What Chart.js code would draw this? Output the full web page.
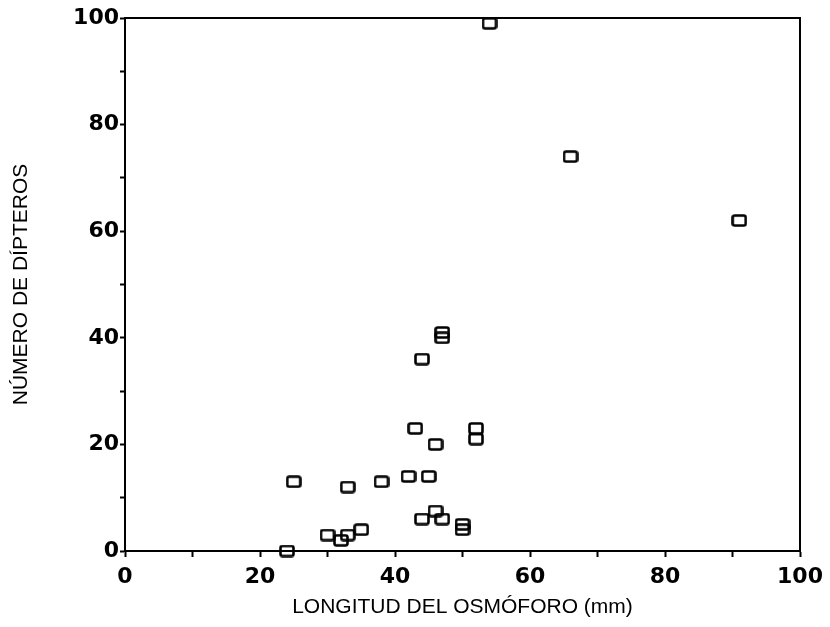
<!DOCTYPE html>
<html>
<head>
<meta charset="utf-8">
<script src="https://cdn.jsdelivr.net/npm/chart.js@4.4.1/dist/chart.umd.min.js"></script>
<style>
  html, body { margin: 0; padding: 0; background: #fff; }
  #wrap { width: 830px; height: 627px; }
</style>
</head>
<body>
<div id="wrap"><canvas id="chart" width="830" height="627"></canvas></div>
<script>
// DATA
const longitud = [24, 25, 30, 32, 33, 33, 35, 38, 42, 43, 44, 44, 45, 46, 46, 47, 47, 47, 50, 50, 52, 52, 54, 66, 91];
const dipteros = [0, 13, 3, 2, 3, 12, 4, 13, 14, 23, 6, 36, 14, 7.5, 20, 6, 40, 41, 4, 5, 21, 23, 99, 74, 62];
const xTicks = [0, 20, 40, 60, 80, 100];
const yTicks = [0, 20, 40, 60, 80, 100];

// open rectangle marker
function makeMarker() {
    const c = document.createElement('canvas');
    c.width = 16; c.height = 13;
    const g = c.getContext('2d');
    g.strokeStyle = '#000';
    g.lineWidth = 2.6;
    g.beginPath();
    g.roundRect(1.5, 1.5, 13, 10, 2);
    g.stroke();
    return c;
}

// frame round the plot area
const framePlugin = {
    id: 'frame',
    afterDraw(chart) {
        const a = chart.chartArea;
        const ctx = chart.ctx;
        ctx.save();
        ctx.strokeStyle = '#000';
        ctx.lineWidth = 2;
        ctx.strokeRect(a.left, a.top, a.right - a.left, a.bottom - a.top);
        ctx.restore();
    }
};

const points = longitud.map((x, i) => ({ x: x, y: dipteros[i] }));
const tickFont = { family: 'DejaVu Sans, sans-serif', size: 22, weight: 'bold' };
const titleFont = { family: 'Liberation Sans, Arial, sans-serif', size: 21 };

new Chart(document.getElementById('chart'), {
    type: 'scatter',
    data: {
        datasets: [{
            data: points,
            pointStyle: makeMarker(),
            pointRadius: 7,
            pointHoverRadius: 7,
            clip: false
        }]
    },
    options: {
        responsive: false,
        animation: false,
        layout: { padding: { top: 18, right: 30, left: 0, bottom: 0 } },
        plugins: { legend: { display: false }, tooltip: { enabled: false } },
        scales: {
            x: {
                type: 'linear',
                min: 0,
                max: 100,
                afterBuildTicks: axis => {
                    axis.ticks = [];
                    for (let v = 0; v <= 100; v += 10) axis.ticks.push({ value: v });
                },
                ticks: {
                    color: '#000',
                    font: tickFont,
                    padding: 7,
                    maxRotation: 0,
                    autoSkip: false,
                    callback: v => xTicks.includes(v) ? String(v) : ''
                },
                grid: { drawOnChartArea: false, color: '#000', tickLength: 6, tickWidth: 2 },
                border: { color: '#000', width: 2 },
                title: {
                    display: true,
                    text: 'LONGITUD DEL OSMÓFORO (mm)',
                    color: '#000',
                    font: titleFont,
                    padding: { top: 4, bottom: 7 }
                },
                afterFit: axis => { axis.height = 76; }
            },
            y: {
                type: 'linear',
                min: 0,
                max: 100,
                afterBuildTicks: axis => {
                    axis.ticks = [];
                    for (let v = 0; v <= 100; v += 10) axis.ticks.push({ value: v });
                },
                ticks: {
                    color: '#000',
                    font: tickFont,
                    padding: 1,
                    autoSkip: false,
                    callback: v => yTicks.includes(v) ? String(v) : ''
                },
                grid: { drawOnChartArea: false, color: '#000', tickLength: 5, tickWidth: 2 },
                border: { color: '#000', width: 2 },
                title: {
                    display: true,
                    text: 'NÚMERO DE DÍPTEROS',
                    color: '#000',
                    font: titleFont,
                    padding: { top: 9, bottom: 0 }
                },
                afterFit: axis => { axis.width = 125; }
            }
        }
    },
    plugins: [framePlugin]
});
</script>
</body>
</html>
